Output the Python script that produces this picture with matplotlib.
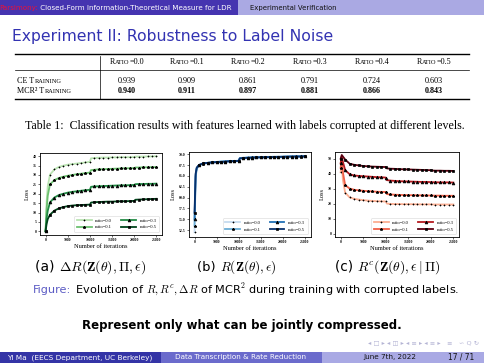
import matplotlib
matplotlib.use('Agg')
import matplotlib.pyplot as plt
from matplotlib.patches import Rectangle
from matplotlib.lines import Line2D

plt.rcParams['mathtext.fontset'] = 'cm'

# ---- table data ----
ratios = ['0.0', '0.1', '0.2', '0.3', '0.4', '0.5']
ce_acc = [0.939, 0.909, 0.861, 0.791, 0.724, 0.603]
mcr_acc = [0.940, 0.911, 0.897, 0.881, 0.866, 0.843]

# ---- training curves ----
iters = [0, 250, 500, 1000, 2000, 3000, 4000, 5000, 6000, 7000, 8000, 9000, 10000,
         10250, 11000, 12000, 13000, 14000, 15000, 16000, 17000, 18000, 19000, 20000,
         20250, 21000, 22000, 23000, 24000, 25000]
curve_labels = ['ratio=0.0', 'ratio=0.1', 'ratio=0.3', 'ratio=0.5']

delta_r = [
    [0, 16, 24, 30.2, 33.0, 34.3, 35.0, 35.5, 35.8, 36.1, 36.4, 36.7, 37.0, 38.9, 39.1,
     39.2, 39.3, 39.3, 39.4, 39.4, 39.5, 39.5, 39.5, 39.6, 39.8, 39.8, 39.8, 39.9, 39.9, 40.0],
    [0, 12, 19, 25.0, 27.3, 28.4, 29.1, 29.6, 30.0, 30.4, 30.7, 31.0, 31.3, 32.6, 32.8,
     33.0, 33.1, 33.2, 33.3, 33.4, 33.5, 33.6, 33.6, 33.7, 34.0, 34.0, 34.1, 34.1, 34.2, 34.2],
    [0, 7, 11, 15.4, 18.0, 19.3, 20.0, 20.6, 21.0, 21.3, 21.6, 21.9, 22.1, 23.7, 23.9,
     24.0, 24.1, 24.2, 24.3, 24.4, 24.5, 24.5, 24.6, 24.7, 25.1, 25.2, 25.2, 25.3, 25.3, 25.4],
    [0, 4, 6.5, 8.8, 11.0, 12.2, 12.9, 13.4, 13.7, 13.9, 14.0, 14.1, 14.2, 15.3, 15.5,
     15.6, 15.7, 15.8, 15.8, 15.9, 16.0, 16.0, 16.1, 16.2, 16.8, 16.9, 17.0, 17.1, 17.2, 17.3],
]
r_total = [
    [52.0, 64.5, 66.6, 67.4, 67.8, 68.0, 68.1, 68.2, 68.3, 68.35, 68.4, 68.45, 68.5, 69.1, 69.2,
     69.25, 69.3, 69.3, 69.35, 69.35, 69.4, 69.4, 69.4, 69.4, 69.45, 69.45, 69.5, 69.5, 69.5, 69.5],
    [53.5, 64.8, 66.7, 67.4, 67.8, 68.0, 68.1, 68.2, 68.3, 68.3, 68.4, 68.4, 68.5, 69.1, 69.15,
     69.2, 69.25, 69.3, 69.3, 69.35, 69.35, 69.4, 69.4, 69.4, 69.45, 69.45, 69.45, 69.5, 69.5, 69.5],
    [55.0, 65.2, 66.8, 67.5, 67.9, 68.0, 68.1, 68.2, 68.25, 68.3, 68.4, 68.4, 68.45, 69.05, 69.1,
     69.2, 69.2, 69.25, 69.3, 69.3, 69.35, 69.35, 69.4, 69.4, 69.4, 69.45, 69.45, 69.45, 69.5, 69.5],
    [56.5, 65.5, 66.9, 67.5, 67.9, 68.0, 68.1, 68.15, 68.2, 68.3, 68.35, 68.4, 68.45, 69.0, 69.1,
     69.15, 69.2, 69.25, 69.25, 69.3, 69.3, 69.35, 69.35, 69.4, 69.4, 69.4, 69.45, 69.45, 69.45, 69.5],
]
r_comp = [
    [41, 48, 36, 27.5, 24.3, 23.4, 22.9, 22.5, 22.2, 22.0, 21.8, 21.7, 21.6, 20.2, 20.0,
     19.9, 19.9, 19.8, 19.8, 19.8, 19.7, 19.7, 19.7, 19.7, 19.6, 19.6, 19.6, 19.6, 19.6, 19.6],
    [44, 50, 41, 32.5, 30.2, 29.4, 29.0, 28.7, 28.5, 28.3, 28.1, 28.0, 27.9, 26.5, 26.3,
     26.1, 26.0, 25.9, 25.8, 25.8, 25.7, 25.7, 25.6, 25.6, 25.5, 25.5, 25.5, 25.4, 25.4, 25.4],
    [47, 51.5, 48, 42.5, 39.7, 38.9, 38.6, 38.4, 38.2, 38.0, 37.8, 37.7, 37.5, 35.8, 35.5,
     35.3, 35.1, 35.0, 34.9, 34.8, 34.7, 34.6, 34.6, 34.5, 34.4, 34.4, 34.3, 34.3, 34.3, 34.2],
    [50, 52.5, 51.5, 49.5, 46.7, 46.0, 45.6, 45.2, 45.0, 44.8, 44.7, 44.6, 44.5, 43.6, 43.4,
     43.3, 43.1, 43.0, 42.9, 42.8, 42.7, 42.6, 42.5, 42.4, 42.2, 42.1, 42.1, 42.0, 42.0, 41.9],
]
greens = ['#b9e3b1', '#6cc070', '#238b45', '#00441b']
blues = ['#c6dbef', '#6baed6', '#2171b5', '#08306b']
reds = ['#fcae91', '#f06048', '#b51a1f', '#5a0010']
markers = ['+', '*', '^', 's']

W, H = 484, 363
fig = plt.figure(figsize=(W / 100, H / 100), dpi=100)
renderer = fig.canvas.get_renderer()
SERIF = 'Liberation Serif'
SANS = 'DejaVu Sans'


def rect(x0, y0, x1, y1, color):
    fig.add_artist(Rectangle((x0 / W, 1 - y1 / H), (x1 - x0) / W, (y1 - y0) / H,
                             transform=fig.transFigure, color=color, lw=0))


def hline(x0, x1, y, lw, color='black'):
    fig.add_artist(Line2D([x0 / W, x1 / W], [1 - y / H, 1 - y / H], lw=lw, color=color,
                          transform=fig.transFigure))


def run(x, y, parts, width=None, align='left', gap=0.0):
    # draw pieces of text one after another on a common baseline
    texts = [fig.text(0, 1 - y / H, s, va='baseline', **kw) for s, kw in parts]
    widths = [t.get_window_extent(renderer).width for t in texts]
    if width:
        k = width / sum(widths)
        for t in texts:
            t.set_fontsize(t.get_fontsize() * k)
        widths = [t.get_window_extent(renderer).width for t in texts]
    total = sum(widths) + gap * (len(texts) - 1)
    cur = x - (total / 2 if align == 'center' else 0)
    for t, w in zip(texts, widths):
        t.set_x(cur / W)
        cur += w + gap
    return texts


def smallcaps(pieces, size, weight='normal'):
    out = []
    for i, s in enumerate(pieces):
        small = i % 2 == 1
        out.append((s, dict(family=SERIF, fontsize=size * (0.78 if small else 1), weight=weight)))
    return out


# ---- header / footer bars ----
rect(0, 0, 238, 15, '#4534b0')
rect(238, 0, W, 15, '#aaa9e3')
run(-1, 10, [('Parsimony:', dict(family=SANS, fontsize=5, color='#ec1037')),
             (' Closed-Form Information-Theoretical Measure for LDR', dict(family=SANS, fontsize=5, color='white'))],
    width=234)
run(250, 10, [('Experimental Verification', dict(family=SANS, fontsize=5, color='#111111'))], width=87)

rect(0, 352, 161, H, '#3434a6')
rect(161, 352, 322, H, '#6b6bcc')
rect(322, 352, W, H, '#a9a9e4')
run(7, 359.5, [('Yi Ma  (EECS Department, UC Berkeley)', dict(family=SANS, fontsize=5, color='white'))], width=147)
run(175, 359.5, [('Data Transcription & Rate Reduction', dict(family=SANS, fontsize=5, color='white'))], width=133)
run(363, 359.5, [('June 7th, 2022', dict(family=SANS, fontsize=5, color='#111111'))], width=54)
run(448, 359.5, [('17 / 71', dict(family=SANS, fontsize=5, color='#111111'))], width=27)
run(368, 344.5, [('\u25c2 \u25a1 \u25b8 \u25c2 \u25eb \u25b8 \u25c2 \u2261 \u25b8 \u25c2 \u2261 \u25b8   \u2261   \u223d Q \u21bb',
                  dict(family=SANS, fontsize=4, color='#b4b4d4'))], width=109)

# ---- title ----
run(12, 41.3, [('Experiment II: Robustness to Label Noise', dict(family=SANS, fontsize=10.5, color='#3333b2'))],
    width=321)

# ---- table ----
hline(15, 469, 54.2, 1.0)
hline(15, 469, 69.7, 0.5)
hline(15, 469, 99.2, 1.0)
fig.add_artist(Line2D([100 / W, 100 / W], [1 - 56 / H, 1 - 98.5 / H], lw=0.5, color='black',
                      transform=fig.transFigure))
col_x = [127, 187, 248, 310, 372, 434]
fs = 5.9
for cx, r, a, b in zip(col_x, ratios, ce_acc, mcr_acc):
    run(cx, 64.3, smallcaps(['R', 'ATIO', '=' + r], fs), align='center', gap=0.4)
    run(cx, 83, [('%.3f' % a, dict(family=SERIF, fontsize=fs))], align='center')
    run(cx, 93, [('%.3f' % b, dict(family=SERIF, fontsize=fs, weight='bold'))], align='center')
run(17, 83, smallcaps(['CE T', 'RAINING'], fs), gap=0.5)
run(17, 93, smallcaps(['MCR\u00b2 T', 'RAINING'], fs), gap=0.5)

run(245, 129, [('Table 1:  Classification results with features learned with labels corrupted at different levels.',
                dict(family=SERIF, fontsize=6.5))], width=440, align='center')

# ---- the three loss plots ----
mark_idx = [i for i, t in enumerate(iters) if t % 1000 == 0]


def panel(box, series, colors, ylim, yticks, yfmt):
    x0, y0, x1, y1 = box
    ax = fig.add_axes([x0 / W, 1 - y1 / H, (x1 - x0) / W, (y1 - y0) / H])
    for vals, c, m, lab in zip(series, colors, markers, curve_labels):
        ax.plot(iters, vals, color=c, lw=1.3, marker=m, ms=2.0, mec='black', mfc='black',
                mew=0.5, markevery=mark_idx, label=lab)
    ax.set_xticks([0, 5000, 10000, 15000, 20000, 25000])
    if ylim:
        ax.set_ylim(*ylim)
    ax.set_yticks(yticks)
    ax.set_yticklabels([yfmt % v for v in yticks])
    ax.tick_params(labelsize=2.7, length=1.2, width=0.4, pad=1.2)
    for lab in ax.get_xticklabels() + ax.get_yticklabels():
        lab.set_family(SERIF)
        lab.set_weight('bold')
    for sp in ax.spines.values():
        sp.set_linewidth(0.6)
    ax.set_xlabel('Number of iterations', family=SERIF, fontsize=4.6, labelpad=1.5)
    ax.set_ylabel('Loss', family=SERIF, fontsize=4.6, labelpad=2)
    ax.legend(ncol=2, loc='lower right', prop={'family': SERIF, 'size': 3.3}, handlelength=3.2,
              columnspacing=2.0, borderpad=0.6, labelspacing=0.5, handletextpad=0.8,
              borderaxespad=0.6, framealpha=0.8, edgecolor='#cccccc').get_frame().set_linewidth(0.4)
    return ax


panel((40, 152.5, 162, 235), delta_r, greens, None, [0, 5, 10, 15, 20, 25, 30, 35, 40], '%d')
panel((189, 152, 310.5, 237), r_total, blues, (50.9, 70.5),
      [52.5, 55.0, 57.5, 60.0, 62.5, 65.0, 67.5, 70.0], '%.1f')
panel((335, 152, 459, 237), r_comp, reds, (-2, 54.5), [0, 10, 20, 30, 40, 50], '%d')

# ---- sub captions ----
sub_kw = dict(family=SANS, fontsize=8)
run(91, 270.5, [('(a) ', sub_kw), (r'$\Delta R(\mathbf{Z}(\theta), \mathbf{\Pi}, \epsilon)$', sub_kw)],
    width=112, align='center')
run(237, 270.5, [('(b) ', sub_kw), (r'$R(\mathbf{Z}(\theta), \epsilon)$', sub_kw)], width=80, align='center')
run(388, 270.5, [('(c) ', sub_kw), (r'$R^c(\mathbf{Z}(\theta), \epsilon \mid \mathbf{\Pi})$', sub_kw)],
    width=107, align='center')

cap_kw = dict(family=SANS, fontsize=6.8)
run(246, 293, [('Figure:', dict(cap_kw, color='#5b5bc4')),
               (r' Evolution of $R, R^c, \Delta R$ of MCR$^2$ during training with corrupted labels.', cap_kw)],
    width=428, align='center')

run(242, 328.5, [('Represent only what can be jointly compressed.', dict(family=SANS, fontsize=8, weight='bold'))],
    width=317, align='center')

fig.savefig('out.png', dpi=100)
